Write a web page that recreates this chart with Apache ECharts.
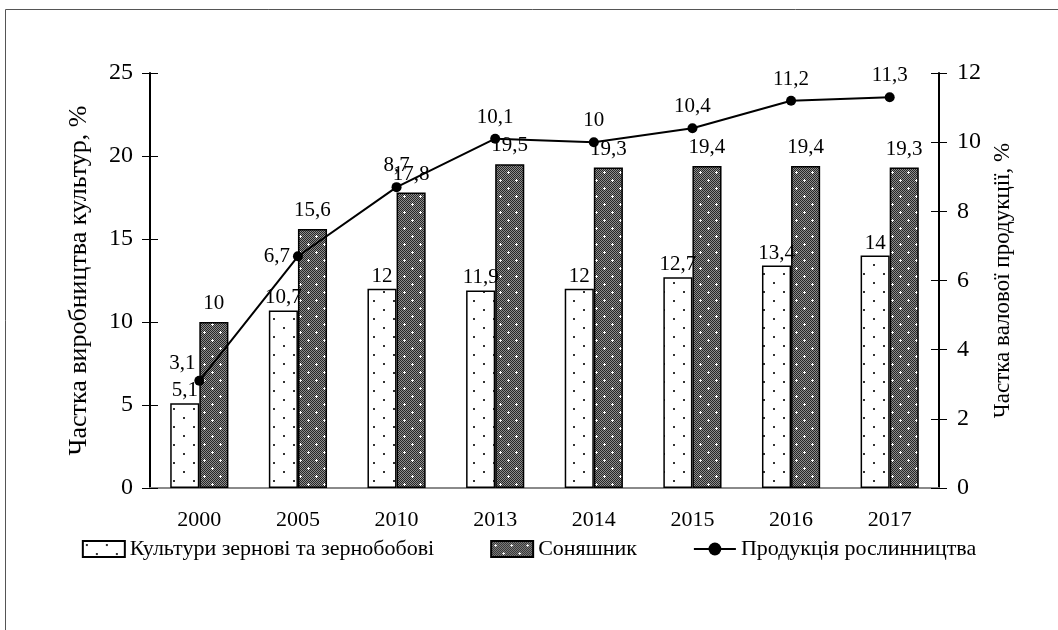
<!DOCTYPE html>
<html><head><meta charset="utf-8">
<script src="https://cdn.jsdelivr.net/npm/echarts@6/dist/echarts.min.js"></script>
<style>html,body{margin:0;padding:0;background:#fff}#c{width:1058px;height:630px}</style>
</head><body><div id="c"></div>
<script>
const years = ['2000','2005','2010','2013','2014','2015','2016','2017'];
const grain = [5.1, 10.7, 12, 11.9, 12, 12.7, 13.4, 14];
const sunflower = [10, 15.6, 17.8, 19.5, 19.3, 19.4, 19.4, 19.3];
const cropProd = [3.1, 6.7, 8.7, 10.1, 10, 10.4, 11.2, 11.3];
const leftTicks = [0, 5, 10, 15, 20, 25];
const rightTicks = [0, 2, 4, 6, 8, 10, 12];
const names = ['Культури зернові та зернобобові', 'Соняшник', 'Продукція рослинництва'];
const yTitles = ['Частка виробництва культур, %', 'Частка валової продукції, %'];

const FONT = 'Liberation Serif';
function dotPattern(){
  const c = document.createElement('canvas'); c.width = 20; c.height = 18;
  const g = c.getContext('2d');
  g.fillStyle = '#fff'; g.fillRect(0,0,20,18);
  g.fillStyle = '#333';
  g.fillRect(3,3,2,2); g.fillRect(13,12,2,2);
  return {image: c, repeat: 'repeat'};
}
function darkPattern(){
  const c = document.createElement('canvas'); c.width = 16; c.height = 16;
  const g = c.getContext('2d');
  for (let x=0;x<16;x++) for (let y=0;y<16;y++){
    g.fillStyle = ((x+y)%2===0) ? '#262626' : '#8c8c8c';
    g.fillRect(x,y,1,1);
  }
  g.fillStyle = '#fff';
  function plus(cx,cy){ g.fillRect(cx-1,cy,3,1); g.fillRect(cx,cy-1,1,3); }
  plus(4,4); plus(12,12);
  return {image: c, repeat: 'repeat'};
}
const fmt = v => String(v).replace('.', ',');
const lineLabelCfg = (i) => {
  if (i === 0) return {position: 'top', offset: [-17, 3]};
  if (i === 1) return {position: 'left', distance: 3};
  return {position: 'top', distance: 6};
};

const chart = echarts.init(document.getElementById('c'));
const tickStyle = {color: '#000', width: 1};
chart.setOption({
  animation: false,
  textStyle: {fontFamily: FONT},
  graphic: [{type: 'rect', shape: {x: 5.5, y: 9.5, width: 1100, height: 700}, style: {fill: 'none', stroke: '#555', lineWidth: 1}, silent: true}],
  grid: {left: 150, right: 119, top: 73, bottom: 142},
  legend: {
    left: 'center', top: 533, itemWidth: 42, itemHeight: 16, itemGap: 56,
    textStyle: {fontFamily: FONT, fontSize: 22, color: '#000'},
    data: [{name: names[0], icon: 'rect'}, {name: names[1], icon: 'rect'}, {name: names[2]}]
  },
  xAxis: [
    {type: 'category', data: years, position: 'bottom',
     axisLine: {lineStyle: {color: '#000', width: 1}},
     axisTick: {length: 8, lineStyle: tickStyle},
     axisLabel: {color: '#000', fontSize: 22, fontFamily: FONT, margin: 21}},
    {type: 'category', data: years, position: 'bottom',
     axisLine: {show: false}, axisTick: {inside: true, length: 8, lineStyle: tickStyle},
     axisLabel: {show: false}},
    {type: 'category', data: years, position: 'top',
     axisLine: {lineStyle: {color: '#8a8a8a', width: 2}}, axisTick: {show: false},
     axisLabel: {show: false}}
  ],
  yAxis: [
    {type: 'value', min: 0, max: 25, interval: 5, position: 'left',
     name: yTitles[0], nameLocation: 'middle', nameGap: 58, nameRotate: 90,
     nameTextStyle: {fontFamily: FONT, fontSize: 26, color: '#000'},
     axisLine: {show: true, lineStyle: {color: '#000', width: 2}},
     axisTick: {show: true, length: 8, lineStyle: tickStyle},
     splitLine: {show: false},
     axisLabel: {color: '#000', fontSize: 24, fontFamily: FONT, margin: 17}},
    {type: 'value', min: 0, max: 12, interval: 2, position: 'right',
     name: yTitles[1], nameLocation: 'middle', nameGap: 52, nameRotate: 90,
     nameTextStyle: {fontFamily: FONT, fontSize: 23, color: '#000'},
     axisLine: {show: true, lineStyle: {color: '#000', width: 2}},
     axisTick: {show: true, length: 8, lineStyle: tickStyle},
     splitLine: {show: false},
     axisLabel: {color: '#000', fontSize: 24, fontFamily: FONT, margin: 18}},
    {type: 'value', min: 0, max: 25, interval: 5, position: 'left',
     axisLine: {show: false}, axisTick: {show: true, inside: true, length: 8, lineStyle: tickStyle},
     splitLine: {show: false}, axisLabel: {show: false}},
    {type: 'value', min: 0, max: 12, interval: 2, position: 'right',
     axisLine: {show: false}, axisTick: {show: true, inside: true, length: 8, lineStyle: tickStyle},
     splitLine: {show: false}, axisLabel: {show: false}}
  ],
  series: [
    {name: names[0], type: 'bar', data: grain, barGap: '0%', barCategoryGap: '41%',
     itemStyle: {color: dotPattern(), borderColor: '#000', borderWidth: 1.5},
     label: {show: true, position: 'top', distance: 2, color: '#000', fontSize: 21, fontFamily: FONT, formatter: p => fmt(p.value)}},
    {name: names[1], type: 'bar', data: sunflower,
     itemStyle: {color: darkPattern(), borderColor: '#000', borderWidth: 1.5},
     label: {show: true, position: 'top', distance: 8, color: '#000', fontSize: 21, fontFamily: FONT, formatter: p => fmt(p.value)}},
    {name: names[2], type: 'line', yAxisIndex: 1, z: 5,
     data: cropProd.map((v, i) => ({value: v, label: lineLabelCfg(i)})),
     symbol: 'circle', symbolSize: 10,
     lineStyle: {color: '#000', width: 2}, itemStyle: {color: '#000'},
     label: {show: true, color: '#000', fontSize: 21, fontFamily: FONT, formatter: p => fmt(p.value)}}
  ]
});
</script></body></html>
